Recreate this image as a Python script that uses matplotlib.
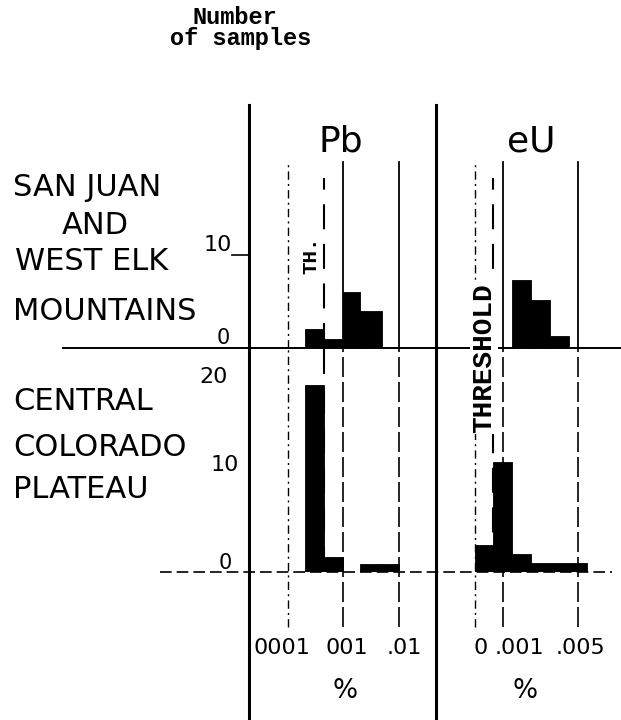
import matplotlib
matplotlib.use('Agg')
import matplotlib.pyplot as plt
import numpy as np
from matplotlib.lines import Line2D

# data (number of samples per bin)
pb_edges_top = [0.0002, 0.00045, 0.001, 0.002, 0.005]
pb_counts_top = [2, 1, 6, 4]
pb_edges_bot = [0.0002, 0.00045, 0.001, 0.002, 0.005, 0.01]
pb_counts_bot = [20, 1.6, 0, 0.9, 0.9]
pb_threshold = 0.00045
pb_ticks = [0.0001, 0.001, 0.01]
pb_ticklabels = ['0001', '001', '.01']

eu_edges_top = [0.0015, 0.0025, 0.0035, 0.0045]
eu_counts_top = [7.3, 5.1, 1.3]
eu_edges_bot = [0.0, 0.00065, 0.0015, 0.0025, 0.0035, 0.0045, 0.0055]
eu_counts_bot = [2.9, 11.8, 1.9, 1, 1, 1]
eu_threshold = 0.00065
eu_ticks = [0.0, 0.001, 0.005]
eu_ticklabels = ['0', '.001', '.005']

regions_top = ['SAN JUAN', 'AND', 'WEST ELK', 'MOUNTAINS']
regions_bot = ['CENTRAL', 'COLORADO', 'PLATEAU']

W, H = 621, 720
PX = 9.35  # pixels per sample
fig = plt.figure(figsize=(W / 100, H / 100), dpi=100)


def box(x0, y0, x1, y1):
    return [x0 / W, 1 - y1 / H, (x1 - x0) / W, (y1 - y0) / H]


pb_top = fig.add_axes(box(249, 105, 436, 348))
pb_bot = fig.add_axes(box(249, 348, 436, 572))
eu_top = fig.add_axes(box(436, 105, 621, 348))
eu_bot = fig.add_axes(box(436, 348, 621, 572))

# the eU axis of the drawing is not linear: 0 -> .001 is wider than a thousandth above
eu_v = [-0.01, 0.0, 0.001, 0.005, 0.02]
eu_p = [-280, 0, 28, 103, 384.25]
fwd = lambda x: np.interp(x, eu_v, eu_p)
inv = lambda y: np.interp(y, eu_p, eu_v)

for ax in (pb_top, pb_bot):
    ax.set_xscale('log')
    ax.set_xlim(10 ** -4.703, 10 ** -1.333)
for ax in (eu_top, eu_bot):
    ax.set_xscale('function', functions=(fwd, inv))
    ax.set_xlim(-0.001393, 0.007293)
for ax in (pb_top, eu_top):
    ax.set_ylim(0, 243 / PX)
for ax in (pb_bot, eu_bot):
    ax.set_ylim(0, 224 / PX)
for ax in (pb_top, pb_bot, eu_top, eu_bot):
    ax.axis('off')

dashdot = (0, (6, 3, 1.5, 3))
longdash = (0, (12, 3))
thdash = (0, (12, 7))

for ax, ticks, th in ((pb_top, pb_ticks, pb_threshold), (eu_top, eu_ticks, eu_threshold)):
    ax.axvline(ticks[0], 0, 0.765, color='k', lw=1.0, ls=dashdot)
    for v in ticks[1:]:
        ax.axvline(v, 0, 0.765, color='k', lw=1.3)
    ax.axvline(th, 0, 0.70, color='k', lw=1.5, ls=thdash)

for ax, ticks, th in ((pb_bot, pb_ticks, pb_threshold), (eu_bot, eu_ticks, eu_threshold)):
    ax.axvline(ticks[0], -0.2455, 1, color='k', lw=1.0, ls=dashdot, clip_on=False)
    for v in ticks[1:]:
        ax.axvline(v, -0.2455, 1, color='k', lw=1.2, ls=longdash, clip_on=False)
    ax.axvline(th, 0, 1, color='k', lw=1.5, ls=thdash)

# histograms
for ax, edges, counts in ((pb_top, pb_edges_top, pb_counts_top),
                          (pb_bot, pb_edges_bot, pb_counts_bot),
                          (eu_top, eu_edges_top, eu_counts_top),
                          (eu_bot, eu_edges_bot, eu_counts_bot)):
    ax.bar(edges[:-1], counts, width=np.diff(edges), align='edge',
           color='k', edgecolor='k', lw=0.6, zorder=3)

# frame lines
pb_top.axhline(0, (63 - 249) / 187, (621 - 249) / 187, color='k', lw=1.4, clip_on=False)
pb_bot.axhline(0, (160 - 249) / 187, (612 - 249) / 187, color='k', lw=1.2,
               ls=(0, (7, 3)), clip_on=False)
for x in (249, 436):
    fig.add_artist(Line2D([x / W, x / W], [1 - 105 / H, 0], color='k', lw=2.2))
pb_top.plot([(232 - 249) / 187, 0], [10, 10], transform=pb_top.get_yaxis_transform(),
            color='k', lw=1.2, clip_on=False)

# y labels
ylab = [(pb_top, '10', 10, 218, 10, 16), (pb_top, '0', 0, 223, 10, 15),
        (pb_bot, '20', 20, 214, 8, 16), (pb_bot, '10', 10, 225, 13, 16),
        (pb_bot, '0', 0, 225, 9, 15)]
for ax, s, v, xp, dy, fs in ylab:
    ax.annotate(s, xy=((xp - 249) / 187, v), xycoords=ax.get_yaxis_transform(),
                xytext=(0, dy), textcoords='offset pixels', ha='center', va='center',
                fontsize=fs, annotation_clip=False)

# x labels under the columns
for ax, ticks, labels, dxs in ((pb_bot, pb_ticks, pb_ticklabels, [-6, 3, 5]),
                               (eu_bot, eu_ticks, eu_ticklabels, [6, 16, 2])):
    for v, s, dx in zip(ticks, labels, dxs):
        ax.annotate(s, xy=(v, 0), xycoords=ax.get_xaxis_transform(),
                    xytext=(dx, -76), textcoords='offset pixels', ha='center', va='center',
                    fontsize=16, annotation_clip=False)

fig.text(345 / W, 1 - 691 / H, '%', ha='center', va='center', fontsize=19)
fig.text(525 / W, 1 - 691 / H, '%', ha='center', va='center', fontsize=19)

fig.text(341 / W, 1 - 142 / H, 'Pb', ha='center', va='center', fontsize=26)
fig.text(531 / W, 1 - 141 / H, 'eU', ha='center', va='center', fontsize=26)

mono = 'Liberation Mono'
fig.text(235 / W, 1 - 17 / H, 'Number', ha='center', va='center', fontsize=17,
         family=mono, weight='bold')
fig.text(241 / W, 1 - 38 / H, 'of samples', ha='center', va='center', fontsize=17,
         family=mono, weight='bold')

fig.text(311 / W, 1 - 255 / H, 'TH.', ha='center', va='center', fontsize=15,
         family=mono, weight='bold', rotation=90)
fig.text(484 / W, 1 - 358 / H, 'THRESHOLD', ha='center', va='center', fontsize=20,
         family=mono, weight='bold', rotation=90,
         bbox=dict(facecolor='white', edgecolor='none', pad=0.5), zorder=5)

for s, (xp, yp) in zip(regions_top, [(13, 187), (62, 225), (15, 262), (13, 312)]):
    fig.text(xp / W, 1 - yp / H, s, ha='left', va='center', fontsize=22)
for s, (xp, yp) in zip(regions_bot, [(13, 402), (13, 447), (13, 490)]):
    fig.text(xp / W, 1 - yp / H, s, ha='left', va='center', fontsize=22)

fig.savefig('out.png', dpi=100)
